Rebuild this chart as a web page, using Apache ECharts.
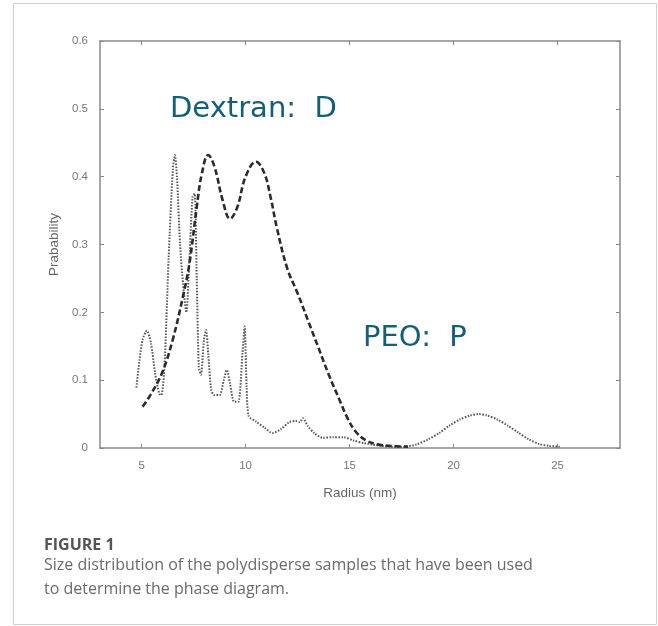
<!DOCTYPE html>
<html>
<head>
<meta charset="utf-8">
<script src="https://cdn.jsdelivr.net/npm/echarts@6/dist/echarts.min.js"></script>
<style>
  html, body { margin: 0; padding: 0; background: #fff; }
  #chart { width: 658px; height: 626px; }
</style>
</head>
<body>
<div id="chart"></div>
<script>
// Dextran (dashed curve)
const dextranR = [5.05, 5.5, 6.0, 6.5, 7.0, 7.3, 7.65, 7.9, 8.2, 8.5, 8.9, 9.25, 9.6, 10.0, 10.5,
    10.9, 11.2, 11.5, 12.0, 12.5, 13.0, 13.5, 14.0, 14.5, 14.9, 15.3, 15.8, 16.4, 17.0, 17.8]
const dextranP = [0.061, 0.082, 0.112, 0.160, 0.225, 0.272, 0.355, 0.405, 0.432, 0.415, 0.365, 0.338, 0.355, 0.400, 0.422,
    0.405, 0.370, 0.325, 0.265, 0.228, 0.188, 0.148, 0.108, 0.072, 0.044, 0.024, 0.011, 0.005, 0.003, 0.002]

// PEO (dotted curve)
const peoR = [4.75, 4.9, 5.05, 5.25, 5.45, 5.65, 5.85, 5.95, 6.1, 6.3, 6.5, 6.6, 6.7, 6.85, 7.0, 7.15, 7.3, 7.45, 7.55,
    7.65, 7.75, 7.85, 8.0, 8.1, 8.2, 8.35, 8.5, 8.75, 8.95, 9.1, 9.25, 9.45, 9.65, 9.85, 9.95, 10.05, 10.15, 10.5,
    10.9, 11.3, 11.7, 12.1, 12.4, 12.6, 12.75, 13.0, 13.3, 13.7, 14.2, 14.7, 15.2, 15.7, 16.3, 17.0, 17.6, 18.2,
    18.8, 19.3, 19.8, 20.3, 20.8, 21.2, 21.6, 22.1, 22.6, 23.1, 23.6, 24.1, 24.6, 25.1]
const peoP = [0.089, 0.130, 0.160, 0.173, 0.155, 0.110, 0.080, 0.078, 0.120, 0.280, 0.410, 0.432, 0.400, 0.300, 0.240, 0.200, 0.280, 0.370, 0.375,
    0.250, 0.120, 0.108, 0.160, 0.174, 0.140, 0.085, 0.078, 0.078, 0.100, 0.115, 0.095, 0.068, 0.068, 0.140, 0.179, 0.090, 0.047, 0.039,
    0.030, 0.022, 0.028, 0.038, 0.040, 0.038, 0.044, 0.032, 0.022, 0.015, 0.016, 0.016, 0.011, 0.007, 0.004, 0.002, 0.002, 0.005,
    0.013, 0.022, 0.033, 0.042, 0.048, 0.050, 0.048, 0.042, 0.033, 0.023, 0.013, 0.006, 0.003, 0.002]

const xTicks = [5, 10, 15, 20, 25]

function pairs(xs, ys) {
    let out = []
    for (let i = 0; i < xs.length; i++) {
        out.push([xs[i], ys[i]])
    }
    return out
}

const axisColor = '#8a8a8a'
const labelFont = 'Liberation Sans'

function xAx(pos, showLabel) {
    return {
        type: 'value', position: pos, min: 3, max: 28,
        axisLine: { show: true, onZero: false, lineStyle: { color: axisColor, width: 1.5 } },
        axisTick: { show: true, inside: true, length: 4, customValues: xTicks, lineStyle: { color: axisColor } },
        axisLabel: { show: showLabel, customValues: xTicks, margin: 12, color: '#777', fontSize: 11.5, fontFamily: labelFont },
        splitLine: { show: false }
    }
}

function yAx(pos, showLabel) {
    return {
        type: 'value', position: pos, min: 0, max: 0.6, interval: 0.1,
        axisLine: { show: true, onZero: false, lineStyle: { color: axisColor, width: 1.5 } },
        axisTick: { show: true, inside: true, length: 4, lineStyle: { color: axisColor } },
        axisLabel: { show: showLabel, margin: 12, color: '#777', fontSize: 11.5, fontFamily: labelFont,
            formatter: function (v) { return v === 0 ? '0' : v.toFixed(1) } },
        splitLine: { show: false }
    }
}

let xBottom = xAx('bottom', true)
xBottom.name = 'Radius (nm)'
xBottom.nameLocation = 'middle'
xBottom.nameGap = 38
xBottom.nameTextStyle = { color: '#666', fontSize: 13.5, fontFamily: labelFont }

let yLeft = yAx('left', true)
yLeft.name = 'Prabability'
yLeft.nameLocation = 'middle'
yLeft.nameGap = 38
yLeft.nameTextStyle = { color: '#666', fontSize: 13.5, fontFamily: labelFont }

const teal = '#135f78'
const captionColor = '#6a6a6a'

let option = {
    backgroundColor: '#fff',
    animation: false,
    grid: { left: 100, top: 41, width: 520, height: 407 },
    xAxis: [xBottom, xAx('top', false)],
    yAxis: [yLeft, yAx('right', false)],
    series: [
        {
            name: 'PEO',
            type: 'line',
            data: pairs(peoR, peoP),
            smooth: 0.25,
            showSymbol: false,
            lineStyle: { color: '#555', width: 2, type: [1.5, 1.5] }
        },
        {
            name: 'Dextran',
            type: 'line',
            data: pairs(dextranR, dextranP),
            smooth: 0.4,
            showSymbol: false,
            lineStyle: { color: '#2b2b2b', width: 2.6, type: [6, 3] }
        }
    ],
    graphic: [
        { type: 'rect', shape: { x: 13.5, y: 3.5, width: 643, height: 621 }, style: { fill: 'none', stroke: '#cfcfcf', lineWidth: 1 } },
        { type: 'text', x: 170, y: 95, style: { text: 'Dextran:  D', fill: teal, font: '29px "DejaVu Sans"' } },
        { type: 'text', x: 363, y: 324, style: { text: 'PEO:  P', fill: teal, font: '29px "DejaVu Sans"' } },
        { type: 'text', x: 44, y: 537, style: { text: 'FIGURE 1', fill: '#555', font: 'bold 16px "Open Sans"' } },
        { type: 'text', x: 44, y: 557, style: { text: 'Size distribution of the polydisperse samples that have been used', fill: captionColor, font: '16px "Open Sans"' } },
        { type: 'text', x: 44, y: 581, style: { text: 'to determine the phase diagram.', fill: captionColor, font: '16px "Open Sans"' } }
    ]
};

let chart = echarts.init(document.getElementById('chart'));
chart.setOption(option);
</script>
</body>
</html>
